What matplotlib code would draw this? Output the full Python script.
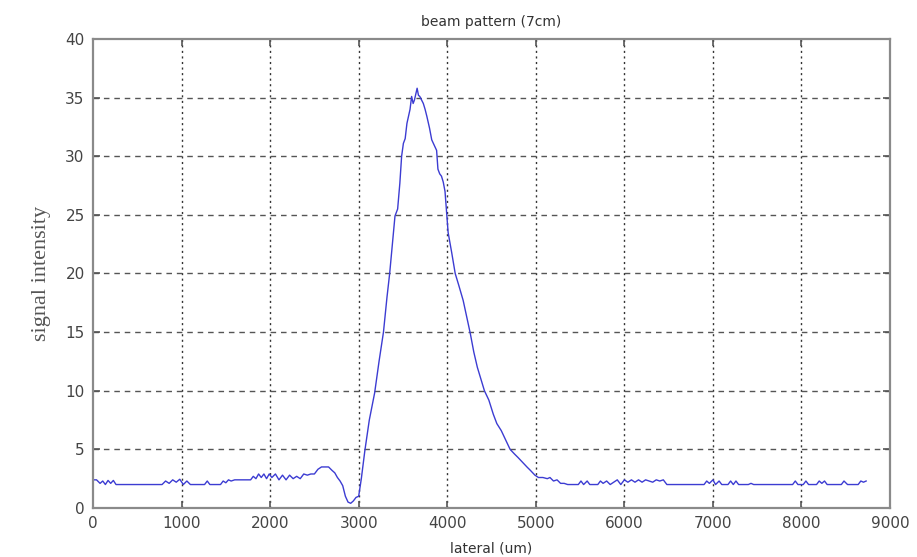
import numpy as np
import matplotlib
matplotlib.use("Agg")
import matplotlib.pyplot as plt

# beam profile (lateral position in um, signal)
lateral = [0, 40, 80, 110, 140, 170, 200, 230, 260, 300, 780, 820, 860, 900, 940,
           980, 1020, 1060, 1100, 1260, 1290, 1320, 1440, 1470, 1500, 1530, 1560,
           1600, 1780, 1810, 1840, 1870, 1900, 1930, 1960, 1990, 2020, 2060, 2100,
           2140, 2180, 2220, 2260, 2300, 2340, 2380, 2420, 2460, 2500, 2540, 2580,
           2620, 2660, 2700, 2730, 2760, 2790, 2820, 2850, 2880, 2910, 2940, 2970,
           3000, 3030, 3070, 3120, 3180, 3230, 3280, 3320, 3350, 3380, 3410, 3440,
           3465, 3485, 3505, 3525, 3545, 3565, 3580, 3598, 3615, 3630, 3645, 3660,
           3675, 3690, 3710, 3730, 3750, 3770, 3800, 3825, 3850, 3880, 3895, 3915,
           3935, 3955, 3975, 3990, 4010, 4050, 4090, 4130, 4180, 4220, 4260, 4300,
           4340, 4380, 4420, 4470, 4520, 4560, 4610, 4660, 4710, 4760, 4800, 4850,
           4900, 4940, 4990, 5030, 5080, 5130, 5160, 5200, 5240, 5280, 5320, 5360,
           5480, 5510, 5540, 5580, 5610, 5700, 5730, 5760, 5800, 5840, 5880, 5920,
           5960, 6000, 6040, 6080, 6120, 6160, 6200, 6240, 6280, 6320, 6360, 6400,
           6440, 6480, 6900, 6930, 6960, 7000, 7030, 7070, 7100, 7170, 7200, 7230,
           7260, 7290, 7400, 7430, 7460, 7900, 7930, 7960, 8020, 8050, 8080, 8170,
           8200, 8230, 8260, 8290, 8450, 8480, 8520, 8640, 8670, 8700, 8730]
signal = [2.4, 2.4, 2.1, 2.3, 2.0, 2.35, 2.1, 2.35, 2.0, 2.0, 2.0, 2.3, 2.1, 2.4, 2.2,
          2.45, 2.0, 2.3, 2.0, 2.0, 2.3, 2.0, 2.0, 2.3, 2.15, 2.4, 2.3,
          2.4, 2.4, 2.7, 2.5, 2.9, 2.6, 2.9, 2.5, 2.9, 2.6, 2.9, 2.4,
          2.8, 2.4, 2.8, 2.5, 2.7, 2.5, 2.9, 2.8, 2.9, 2.9, 3.3, 3.5,
          3.5, 3.5, 3.2, 3.0, 2.6, 2.3, 1.9, 1.0, 0.5, 0.4, 0.6, 0.9,
          1.0, 2.5, 4.9, 7.5, 9.8, 12.5, 15.0, 18.0, 20.0, 22.5, 24.9, 25.5,
          27.7, 30.0, 31.1, 31.5, 32.8, 33.5, 34.0, 35.1, 34.5, 34.8, 35.3, 35.8,
          35.2, 35.1, 34.8, 34.5, 34.0, 33.4, 32.4, 31.4, 31.0, 30.5, 28.9, 28.5,
          28.3, 27.8, 27.0, 25.5, 23.5, 21.8, 20.0, 19.0, 17.7, 16.3, 14.9, 13.3,
          12.0, 11.0, 10.0, 9.2, 8.0, 7.2, 6.6, 5.8, 5.0, 4.6, 4.3, 3.9,
          3.5, 3.2, 2.8, 2.6, 2.6, 2.5, 2.6, 2.3, 2.4, 2.1, 2.1, 2.0,
          2.0, 2.3, 2.0, 2.3, 2.0, 2.0, 2.3, 2.1, 2.3, 2.0, 2.2, 2.4,
          2.0, 2.4, 2.2, 2.4, 2.2, 2.4, 2.2, 2.4, 2.3, 2.2, 2.4, 2.3,
          2.4, 2.0, 2.0, 2.3, 2.1, 2.4, 2.0, 2.3, 2.0, 2.0, 2.3, 2.0,
          2.3, 2.0, 2.0, 2.1, 2.0, 2.0, 2.3, 2.0, 2.0, 2.3, 2.0, 2.0,
          2.3, 2.1, 2.3, 2.0, 2.0, 2.3, 2.0, 2.0, 2.3, 2.2, 2.3]

x_ticks = np.arange(0, 9001, 1000)
y_ticks = np.arange(0, 41, 5)

fig = plt.figure(figsize=(9.17, 5.57), dpi=100)
ax = fig.add_axes([0.1014, 0.088, 0.8692, 0.842])

ax.plot(lateral, signal, color="#3c3cd2", linewidth=1.0)

ax.set_xlim(0, 9000)
ax.set_ylim(0, 40)
ax.set_xticks(x_ticks)
ax.set_yticks(y_ticks)

# matlab style grid: dotted verticals, dashed horizontals
for xv in x_ticks[1:-1]:
    ax.axvline(xv, color="#333333", linewidth=1.0, linestyle=(0, (1.5, 2.5)), zorder=0)
for yv in y_ticks[1:-1]:
    ax.axhline(yv, color="#555555", linewidth=1.0, linestyle=(0, (4, 3.5)), zorder=0)

for s in ax.spines.values():
    s.set_color("#8a8a8a")
    s.set_linewidth(1.6)

ax.tick_params(direction="in", top=True, right=True, length=5, width=1.2,
               color="#555555", labelsize=11, labelcolor="#444444", pad=6)

ax.set_title("beam pattern (7cm)", fontsize=10, color="#333333", pad=9)
ax.set_xlabel("lateral (um)", fontsize=10, color="#333333", labelpad=7)
ax.set_ylabel("signal intensity", fontsize=16, color="#555555",
              family="Liberation Serif", labelpad=10)

fig.savefig("out.png", dpi=100)
